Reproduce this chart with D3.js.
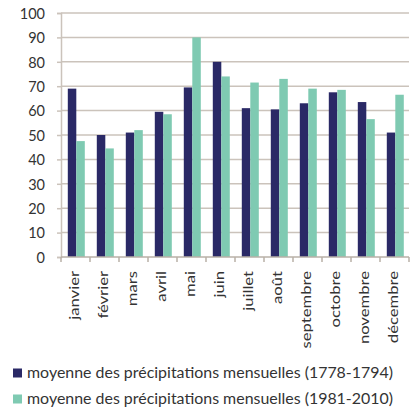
<!DOCTYPE html>
<html>
<head>
<meta charset="utf-8">
<script src="https://cdn.jsdelivr.net/npm/d3@7"></script>
<style>
  html, body { margin: 0; padding: 0; background: #ffffff; }
  svg { display: block; }
  text { font-family: Lato, "Open Sans", sans-serif; fill: #333333; }
</style>
</head>
<body>
<svg id="chart" width="417" height="414"></svg>
<script>
// Monthly precipitation averages (mm)
const months = ["janvier", "février", "mars", "avril", "mai", "juin",
                "juillet", "août", "septembre", "octobre", "novembre", "décembre"];
const rain1778 = [69, 50, 51, 59.5, 69.5, 80, 61, 60.5, 63, 67.5, 63.5, 51];
const rain1981 = [47.5, 44.5, 52, 58.5, 90, 74, 71.5, 73, 69, 68.5, 56.5, 66.5];
const seriesNames = ["moyenne des précipitations mensuelles (1778-1794)",
                     "moyenne des précipitations mensuelles (1981-2010)"];
const yTicks = [0, 10, 20, 30, 40, 50, 60, 70, 80, 90, 100];
const colors = ["#2a2966", "#7fcab2"];

const svg = d3.select("#chart");
const plotLeft = 61, plotRight = 409, plotTop = 13, plotBottom = 257;
const gridColor = "#cbc3bb";

const pi = 12 / 29;
const x = d3.scaleBand().domain(months).range([plotLeft, plotRight])
  .paddingInner(pi).paddingOuter(pi / 2);
const xs = d3.scaleBand().domain([0, 1]).range([0, x.bandwidth()]);
const y = d3.scaleLinear().domain([0, 100]).range([plotBottom, plotTop]);

// horizontal gridlines
svg.append("g").selectAll("line").data(yTicks.filter(d => d > 0)).join("line")
  .attr("x1", plotLeft).attr("x2", plotRight)
  .attr("y1", d => y(d)).attr("y2", d => y(d))
  .attr("stroke", gridColor).attr("stroke-width", 1.5);

// y axis
const yAxis = svg.append("g").attr("transform", `translate(${plotLeft},0)`)
  .call(d3.axisLeft(y).tickValues(yTicks).tickSize(4).tickPadding(12));
yAxis.select(".domain").attr("stroke", gridColor).attr("stroke-width", 1.5);
yAxis.selectAll(".tick line").attr("stroke", gridColor).attr("stroke-width", 1.5);
yAxis.selectAll(".tick text")
  .style("font-size", "14.5px").attr("fill", "#333")
  .attr("dy", "0.36em");

// bars
const rows = months.map((m, i) => ({ m, v: [rain1778[i], rain1981[i]] }));
const groups = svg.append("g").selectAll("g").data(rows).join("g")
  .attr("transform", d => `translate(${x(d.m) + 0.8},0)`);
groups.selectAll("rect").data(d => d.v.map((v, k) => ({ v, k }))).join("rect")
  .attr("x", d => xs(d.k))
  .attr("width", xs.bandwidth())
  .attr("y", d => y(d.v))
  .attr("height", d => y(0) - y(d.v))
  .attr("fill", d => colors[d.k]);

// x axis baseline and ticks at category boundaries
const step = x.step();
const bounds = months.map(m => x(m) - step * pi / 2).concat([plotRight]);
const xAxis = svg.append("g");
xAxis.append("line").attr("x1", plotLeft).attr("x2", plotRight)
  .attr("y1", plotBottom).attr("y2", plotBottom)
  .attr("stroke", "#b9b0a7").attr("stroke-width", 1.5);
xAxis.selectAll("line.tk").data(bounds).join("line").attr("class", "tk")
  .attr("x1", d => d).attr("x2", d => d)
  .attr("y1", plotBottom).attr("y2", plotBottom + 5)
  .attr("stroke", "#b9b0a7").attr("stroke-width", 1.5);

// rotated month labels
svg.append("g").selectAll("text").data(months).join("text")
  .attr("transform", d => `translate(${x(d) + x.bandwidth() / 2 - 1},${plotBottom + 14}) rotate(-90) scale(1.28,1)`)
  .attr("text-anchor", "end")
  .attr("dy", "0.36em")
  .style("font-size", "13px")
  .text(d => d);

// legend
const legend = svg.append("g").selectAll("g").data(seriesNames).join("g")
  .attr("transform", (d, i) => `translate(13,${373 + i * 26})`);
legend.append("rect").attr("x", 0).attr("y", -4.5).attr("width", 9).attr("height", 9)
  .attr("fill", (d, i) => colors[i]);
legend.append("text").attr("x", 14).attr("dy", "0.35em")
  .style("font-size", "14.5px")
  .attr("textLength", 366).attr("lengthAdjust", "spacingAndGlyphs")
  .text(d => d);
</script>
</body>
</html>
